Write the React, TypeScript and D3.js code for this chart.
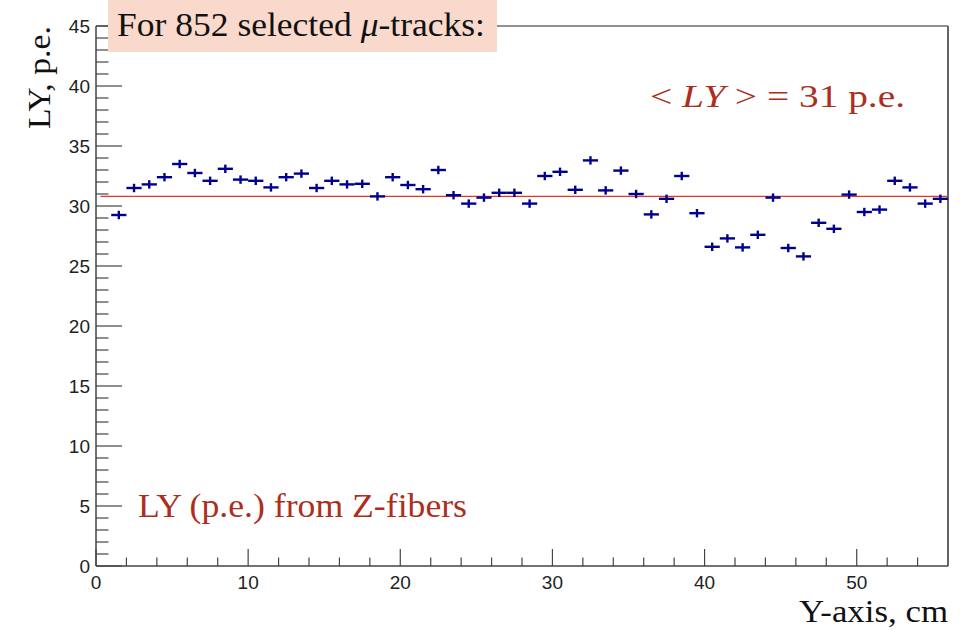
import React from "react";
import * as d3 from "d3";

const binCenters = [
  1.5, 2.5, 3.5, 4.5, 5.5, 6.5, 7.5, 8.5, 9.5, 10.5, 11.5, 12.5, 13.5, 14.5, 15.5,
  16.5, 17.5, 18.5, 19.5, 20.5, 21.5, 22.5, 23.5, 24.5, 25.5, 26.5, 27.5, 28.5, 29.5,
  30.5, 31.5, 32.5, 33.5, 34.5, 35.5, 36.5, 37.5, 38.5, 39.5, 40.5, 41.5, 42.5, 43.5,
  44.5, 45.5, 46.5, 47.5, 48.5, 49.5, 50.5, 51.5, 52.5, 53.5, 54.5, 55.5,
];
const lyValues = [
  29.25, 31.5, 31.8, 32.4, 33.5, 32.75, 32.1, 33.1, 32.2, 32.1, 31.55, 32.4, 32.7, 31.5, 32.1,
  31.8, 31.85, 30.8, 32.4, 31.75, 31.4, 33.0, 30.9, 30.2, 30.7, 31.1, 31.1, 30.2, 32.5,
  32.85, 31.35, 33.8, 31.3, 32.95, 31.0, 29.3, 30.6, 32.5, 29.4, 26.6, 27.3, 26.55, 27.6,
  30.7, 26.5, 25.8, 28.6, 28.1, 30.95, 29.5, 29.7, 32.1, 31.55, 30.2, 30.6,
];
const lyErrors = [
  0.35, 0.35, 0.35, 0.35, 0.35, 0.35, 0.35, 0.35, 0.35, 0.35, 0.35, 0.35, 0.35, 0.35, 0.35,
  0.35, 0.35, 0.35, 0.35, 0.35, 0.35, 0.35, 0.35, 0.35, 0.35, 0.35, 0.35, 0.35, 0.35,
  0.35, 0.35, 0.35, 0.35, 0.35, 0.35, 0.35, 0.35, 0.35, 0.35, 0.35, 0.35, 0.35, 0.35,
  0.35, 0.35, 0.35, 0.35, 0.35, 0.35, 0.35, 0.35, 0.35, 0.35, 0.35, 0.35,
];
const binHalfWidth = 0.5;
const meanLY = 30.8;
const fitRange = [0.3, 56];
const xMajorTicks = [0, 10, 20, 30, 40, 50];
const yMajorTicks = [0, 5, 10, 15, 20, 25, 30, 35, 40, 45];

const W = 960;
const H = 630;
const left = 96;
const right = 948;
const top = 26;
const bottom = 566;

export default function App() {
  const x = d3.scaleLinear().domain([0, 56]).range([left, right]);
  const y = d3.scaleLinear().domain([0, 45]).range([bottom, top]);

  const xMinor = d3.range(0, 56.001, 2).filter((v) => v % 10 !== 0 && v < 56);
  const yMinor = d3.range(0, 45.001, 1).filter((v) => v % 5 !== 0);

  const axisColor = "#444";
  const red = "#ad2e1d";
  const blue = "#00008f";
  const tickFont = "Liberation Sans, Arial, sans-serif";
  const serif = "Liberation Serif, Times New Roman, serif";

  return (
    <svg
      width={W}
      height={H}
      style={{ position: "absolute", left: 0, top: 0, background: "#fff" }}
    >
      <rect x={0} y={0} width={W} height={H} fill="#fff" />
      {/* frame */}
      <line x1={left} y1={top} x2={right} y2={top} stroke="#222" strokeWidth={1} />
      <line x1={right} y1={top} x2={right} y2={bottom} stroke="#666" strokeWidth={2} />
      {/* axes */}
      <line x1={left} y1={top} x2={left} y2={bottom} stroke={axisColor} strokeWidth={1.5} />
      <line x1={left} y1={bottom} x2={right} y2={bottom} stroke={axisColor} strokeWidth={1.5} />

      {/* y ticks */}
      {yMajorTicks.map((v) => (
        <g key={"ym" + v}>
          <line x1={left} x2={left + 26} y1={y(v)} y2={y(v)} stroke={axisColor} strokeWidth={1.2} />
          <text
            x={90}
            y={y(v)}
            textAnchor="end"
            dominantBaseline="central"
            fontFamily={tickFont}
            fontSize={19}
            fill="#222"
          >
            {v}
          </text>
        </g>
      ))}
      {yMinor.map((v) => (
        <line key={"yn" + v} x1={left} x2={left + 12.5} y1={y(v)} y2={y(v)} stroke={axisColor} strokeWidth={1.2} />
      ))}

      {/* x ticks */}
      {xMajorTicks.map((v) => (
        <g key={"xm" + v}>
          <line x1={x(v)} x2={x(v)} y1={bottom} y2={bottom - 17} stroke={axisColor} strokeWidth={1.2} />
          <text
            x={x(v)}
            y={589}
            textAnchor="middle"
            fontFamily={tickFont}
            fontSize={19}
            fill="#222"
          >
            {v}
          </text>
        </g>
      ))}
      {xMinor.map((v) => (
        <line key={"xn" + v} x1={x(v)} x2={x(v)} y1={bottom} y2={bottom - 8.5} stroke={axisColor} strokeWidth={1.2} />
      ))}

      {/* fit line */}
      <line
        x1={x(fitRange[0])}
        x2={x(fitRange[1])}
        y1={y(meanLY)}
        y2={y(meanLY)}
        stroke="#e23a2a"
        strokeWidth={1.3}
      />

      {/* data points */}
      {binCenters.map((c, i) => (
        <g key={"p" + i} stroke={blue} strokeWidth={2.4}>
          <line x1={x(c - binHalfWidth)} x2={x(c + binHalfWidth)} y1={y(lyValues[i])} y2={y(lyValues[i])} />
          <line x1={x(c)} x2={x(c)} y1={y(lyValues[i] - lyErrors[i])} y2={y(lyValues[i] + lyErrors[i])} />
        </g>
      ))}

      {/* title box */}
      <rect x={108} y={0} width={389} height={52} fill="#f9d9cc" />
      <text
        x={117}
        y={36}
        fontFamily={serif}
        fontSize={33}
        fill="#111"
        textLength={368}
        lengthAdjust="spacingAndGlyphs"
      >
        For 852 selected <tspan fontStyle="italic">μ</tspan>-tracks:
      </text>

      {/* annotations */}
      <text
        x={650}
        y={107}
        fontFamily={serif}
        fontSize={32}
        fill={red}
        textLength={255}
        lengthAdjust="spacingAndGlyphs"
      >
        {"<  "}
        <tspan fontStyle="italic">LY</tspan>
        {"  >  =  31 p.e."}
      </text>
      <text
        x={138}
        y={517}
        fontFamily={serif}
        fontSize={33}
        fill={red}
        textLength={329}
        lengthAdjust="spacingAndGlyphs"
      >
        LY (p.e.) from Z-fibers
      </text>

      {/* axis titles */}
      <text
        transform={`translate(50, ${top + 103}) rotate(-90)`}
        fontFamily={serif}
        fontSize={32}
        fill="#111"
        textLength={103}
        lengthAdjust="spacingAndGlyphs"
      >
        LY, p.e.
      </text>
      <text
        x={799}
        y={622}
        fontFamily={serif}
        fontSize={31}
        fill="#111"
        textLength={149}
        lengthAdjust="spacingAndGlyphs"
      >
        Y-axis, cm
      </text>
    </svg>
  );
}
